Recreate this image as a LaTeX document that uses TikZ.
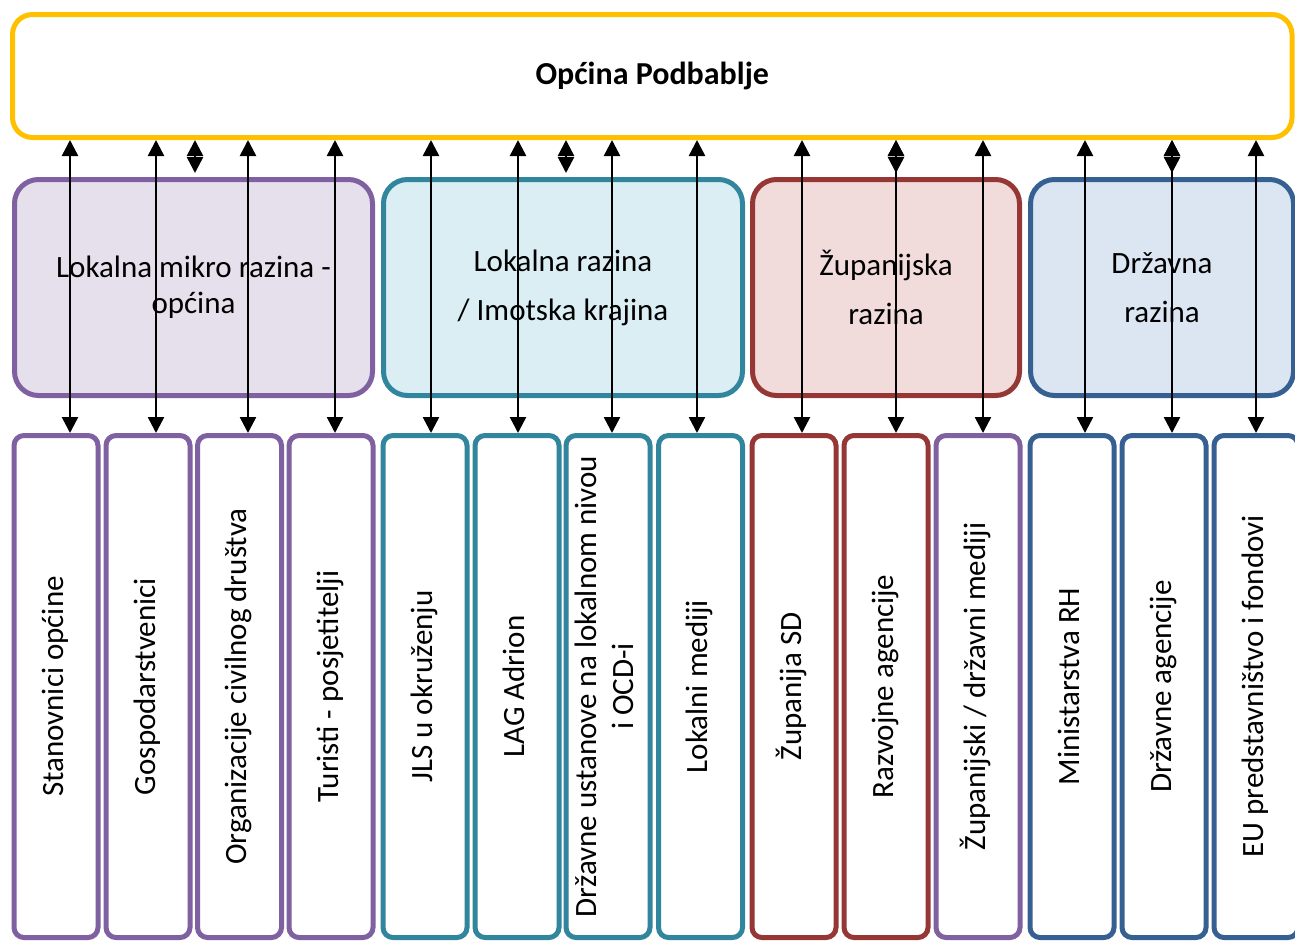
\documentclass[tikz,border=0pt]{standalone}
\usepackage{fontspec}
\setmainfont{Carlito}
\usepackage{graphicx}
\usetikzlibrary{arrows.meta}
\definecolor{ogold}{HTML}{FFC000}
\definecolor{ppl}{HTML}{7F60A0}
\definecolor{pplfill}{HTML}{E5E0EC}
\definecolor{teal}{HTML}{31859C}
\definecolor{tealfill}{HTML}{DAEEF3}
\definecolor{rd}{HTML}{953735}
\definecolor{rdfill}{HTML}{F2DCDB}
\definecolor{bl}{HTML}{376092}
\definecolor{blfill}{HTML}{DCE6F2}
\newcommand{\vtext}[1]{\rotatebox{90}{\begin{tabular}{@{}c@{}}#1\end{tabular}}}

\begin{document}
\begin{tikzpicture}[x=1pt, y=-1pt, >={Triangle[width=16pt,length=16pt]},
  topbox/.style={draw=ogold, line width=5pt, rounded corners=20pt, minimum width=1279.5pt, minimum height=123pt, font=\fontsize{32}{37}\selectfont\bfseries},
  catbox/.style 2 args={draw=#1, fill=#2, line width=5pt, rounded corners=24pt, minimum height=216pt, align=center, inner sep=0pt},
  leafbox/.style={draw=#1, fill=white, line width=5pt, rounded corners=10pt, minimum width=84pt, minimum height=502pt, inner sep=0pt, font=\fontsize{31}{37}\selectfont},
  link/.style={<->, line width=2.5pt}]
\useasboundingbox (0,0) rectangle (1295,943);

% top
\node[topbox] (top) at (652.25,76) {Općina Podbablje};

% levels
\node[catbox={ppl}{pplfill}, minimum width=358pt, font=\fontsize{31}{36}\selectfont] (c1) at (193.5,287.5) {Lokalna mikro razina -\\općina};
\node[catbox={teal}{tealfill}, minimum width=359pt, font=\fontsize{31}{49}\selectfont] (c2) at (563,287.5) {Lokalna razina\\/ Imotska krajina};
\node[catbox={rd}{rdfill}, minimum width=267pt, font=\fontsize{31}{49}\selectfont] (c3) at (886,287.5) {Županijska\\razina};
\node[catbox={bl}{blfill}, minimum width=263pt, font=\fontsize{31}{49}\selectfont] (c4) at (1162,287.5) {Državna\\razina};

% stakeholders
\node[leafbox=ppl] (b1) at (56,686.5) {\vtext{Stanovnici općine}};
\node[leafbox=ppl] (b2) at (148,686.5) {\vtext{Gospodarstvenici}};
\node[leafbox=ppl] (b3) at (239.5,686.5) {\vtext{Organizacije civilnog društva}};
\node[leafbox=ppl] (b4) at (331,686.5) {\vtext{Turisti - posjetitelji}};
\node[leafbox=teal] (b5) at (425,686.5) {\vtext{JLS u okruženju}};
\node[leafbox=teal] (b6) at (517,686.5) {\vtext{LAG Adrion}};
\node[leafbox=teal] (b7) at (608,686.5) {\vtext{Državne ustanove na lokalnom nivou\\i OCD-i}};
\node[leafbox=teal] (b8) at (700.5,686.5) {\vtext{Lokalni mediji}};
\node[leafbox=rd] (b9) at (794,686.5) {\vtext{Županija SD}};
\node[leafbox=rd] (b10) at (886,686.5) {\vtext{Razvojne agencije}};
\node[leafbox=ppl] (b11) at (978,686.5) {\vtext{Županijski / državni mediji}};
\node[leafbox=bl] (b12) at (1072,686.5) {\vtext{Ministarstva RH}};
\node[leafbox=bl] (b13) at (1164,686.5) {\vtext{Državne agencije}};
\node[leafbox=bl] (b14) at (1256,686.5) {\vtext{EU predstavništvo i fondovi}};

% links
\foreach \i/\dx in {1/14, 2/8, 3/8.5, 4/4, 5/6, 6/1, 7/4, 8/-3.5, 9/8, 10/10, 11/5, 12/13, 13/8, 14/0}
  \draw[link] ([xshift=\dx pt]top.south -| b\i.north) -- ([xshift=\dx pt]b\i.north);
\foreach \j/\dx in {1/1.5, 2/3, 3/10, 4/10}
  \draw[link] ([xshift=\dx pt]top.south -| c\j.north) -- ([xshift=\dx pt, yshift=4pt]c\j.north);
\end{tikzpicture}
\end{document}
